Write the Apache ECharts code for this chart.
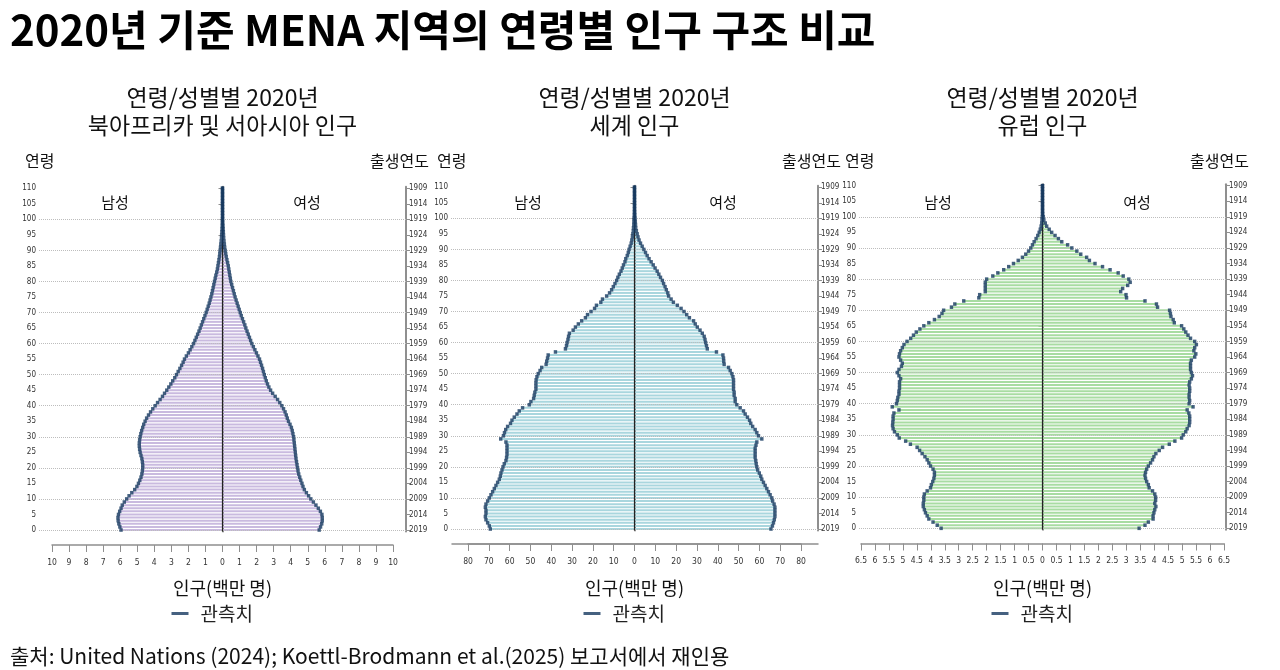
<!DOCTYPE html>
<html>
<head>
<meta charset="utf-8">
<script src="https://cdn.jsdelivr.net/npm/echarts@6/dist/echarts.min.js"></script>
<style>
html,body{margin:0;padding:0;background:#fff;}
#c{width:1280px;height:670px;}
</style>
</head>
<body>
<div id="c"></div>
<script>
// ---------------- DATA ----------------
const ages = Array.from({length:111}, (_, i) => String(i));          // 0..110
const birthYears = ages.map(a => String(2019 - Number(a)));          // 2019..1909

const menaMale = [5.95,6.02,6.08,6.12,6.13,6.10,6.03,5.95,5.88,5.76,
  5.62,5.48,5.32,5.15,5.02,4.93,4.85,4.78,4.73,4.70,
  4.68,4.68,4.70,4.73,4.78,4.83,4.86,4.88,4.88,4.86,
  4.83,4.79,4.74,4.68,4.62,4.54,4.45,4.34,4.22,4.09,
  3.95,3.81,3.66,3.52,3.40,3.27,3.15,3.03,2.92,2.80,
  2.70,2.60,2.50,2.40,2.31,2.23,2.12,2.00,1.90,1.80,
  1.70,1.62,1.54,1.46,1.38,1.31,1.24,1.17,1.10,1.03,
  0.96,0.90,0.84,0.78,0.73,0.68,0.63,0.59,0.55,0.51,
  0.47,0.43,0.39,0.34,0.30,0.27,0.24,0.21,0.18,0.16,
  0.14,0.12,0.10,0.08,0.06,0.05,0.04,0.03,0.02,0.015,
  0.01,0.008,0.006,0.005,0.004,0.003,0.002,0.002,0.001,0.001,0.001];
const menaFemale = [5.67,5.75,5.82,5.85,5.85,5.83,5.74,5.62,5.48,5.33,
  5.18,5.05,4.92,4.80,4.72,4.66,4.59,4.53,4.47,4.43,
  4.40,4.37,4.34,4.31,4.29,4.27,4.25,4.23,4.21,4.19,
  4.17,4.13,4.09,4.04,3.96,3.87,3.80,3.74,3.67,3.58,
  3.48,3.36,3.23,3.09,2.94,2.82,2.72,2.64,2.57,2.51,
  2.45,2.40,2.35,2.29,2.23,2.17,2.08,1.99,1.90,1.81,
  1.72,1.65,1.58,1.51,1.44,1.37,1.31,1.24,1.17,1.10,
  1.04,0.98,0.92,0.86,0.80,0.74,0.69,0.64,0.59,0.54,
  0.49,0.46,0.43,0.40,0.37,0.34,0.30,0.26,0.22,0.19,
  0.16,0.13,0.11,0.09,0.07,0.06,0.05,0.04,0.03,0.02,
  0.015,0.01,0.008,0.006,0.005,0.004,0.003,0.002,0.002,0.001,0.001];

const worldMale = [69.3,69.8,70.6,71.4,71.7,71.4,71.4,71.7,71.4,70.6,
  69.8,69.0,68.2,67.4,66.6,65.8,65.0,64.5,64.2,63.7,
  63.2,62.6,61.8,61.5,61.3,61.3,61.3,61.3,61.8,64.3,
  63.0,62.5,61.9,61.0,59.6,58.9,57.8,56.5,55.4,53.8,
  50.6,49.8,48.5,48.2,47.9,47.4,47.4,47.4,47.3,46.9,
  46.3,45.4,44.6,42.5,42.2,41.8,41.5,38.0,33.2,32.7,
  32.4,32.0,31.7,31.3,29.5,28.4,27.0,25.4,23.6,22.6,
  20.9,19.2,18.3,16.2,15.4,13.4,12.0,11.0,10.2,9.4,
  8.6,8.0,7.3,6.5,5.9,5.3,4.6,4.2,3.5,3.0,
  2.6,2.1,1.6,1.3,1.0,0.8,0.6,0.5,0.35,0.3,
  0.25,0.15,0.1,0.08,0.05,0.03,0.02,0.01,0.01,0.005,0.005];
const worldFemale = [65.6,66.3,66.8,67.2,67.5,67.5,67.5,67.5,67.1,66.4,
  66.0,65.2,64.4,63.6,62.8,62.0,61.2,60.7,60.0,59.2,
  58.8,58.5,58.3,58.0,58.0,58.0,58.0,58.4,58.8,61.2,
  59.6,58.8,58.0,56.8,55.9,55.3,54.3,53.2,52.4,50.8,
  49.2,48.4,48.4,47.9,47.9,47.6,47.6,47.6,47.6,47.3,
  46.8,46.0,45.2,43.1,42.9,42.8,42.5,39.4,35.0,34.6,
  34.2,33.9,33.5,32.6,31.5,30.2,29.2,28.4,26.4,25.1,
  23.8,22.4,20.6,18.7,17.6,16.4,16.0,15.3,14.7,14.0,
  13.4,12.5,11.7,10.9,9.9,9.0,8.0,7.0,6.1,5.3,
  4.5,3.7,2.9,2.2,1.7,1.3,0.9,0.6,0.5,0.4,
  0.3,0.2,0.15,0.1,0.07,0.05,0.03,0.02,0.01,0.01,0.005];

const europeMale = [3.63,3.77,3.92,4.07,4.13,4.19,4.23,4.27,4.27,4.25,
  4.25,4.23,4.13,4.01,3.98,3.93,3.89,3.87,3.87,3.92,
  4.01,4.07,4.13,4.21,4.31,4.40,4.49,4.73,4.90,5.13,
  5.20,5.30,5.35,5.37,5.36,5.35,5.35,5.32,5.14,5.38,
  5.23,5.20,5.18,5.14,5.14,5.12,5.12,5.12,5.08,5.14,
  5.20,5.14,5.05,5.02,5.08,5.14,5.12,5.08,5.02,4.96,
  4.85,4.72,4.62,4.52,4.39,4.25,4.07,3.87,3.70,3.60,
  3.54,3.26,3.14,2.82,2.28,2.25,2.05,2.05,2.05,2.05,
  2.00,1.78,1.60,1.39,1.21,1.04,0.87,0.72,0.60,0.50,
  0.42,0.36,0.30,0.23,0.17,0.12,0.08,0.05,0.03,0.02,
  0.01,0.005,0.003,0.002,0.001,0.001,0.001,0.001,0.001,0.001,0.001];
const europeFemale = [3.46,3.67,3.79,3.96,3.96,3.99,4.02,4.06,4.02,4.05,
  4.05,4.02,3.94,3.82,3.79,3.73,3.69,3.67,3.69,3.73,
  3.79,3.87,3.94,3.99,4.06,4.18,4.30,4.54,4.74,4.98,
  5.04,5.13,5.18,5.25,5.27,5.27,5.27,5.24,5.18,5.39,
  5.25,5.27,5.25,5.25,5.27,5.27,5.25,5.27,5.33,5.37,
  5.33,5.30,5.30,5.30,5.33,5.45,5.49,5.42,5.45,5.51,
  5.45,5.30,5.21,5.13,5.06,4.98,4.72,4.68,4.60,4.58,
  4.55,4.12,4.08,3.67,3.01,2.99,2.80,2.87,3.05,3.14,
  3.09,2.89,2.71,2.42,2.15,1.88,1.68,1.58,1.37,1.23,
  1.05,0.90,0.69,0.57,0.45,0.33,0.24,0.15,0.10,0.05,
  0.03,0.01,0.005,0.003,0.002,0.001,0.001,0.001,0.001,0.001,0.001];

const gridAges = ['0','10','20','30','40','50','60','70','80','90','100'];

const mainTitle = '2020년 기준 MENA 지역의 연령별 인구 구조 비교';
const subLine1 = '연령/성별별 2020년';
const subLine2 = ['북아프리카 및 서아시아 인구', '세계 인구', '유럽 인구'];
const sourceText = '출처: United Nations (2024); Koettl-Brodmann et al.(2025) 보고서에서 재인용';

// ---------------- LAYOUT ----------------
const KR = "'Noto Sans CJK KR', 'Noto Sans', sans-serif";
const NUM = "'Liberation Sans Narrow', 'DejaVu Sans Condensed', sans-serif";
const NAVY = '#173a60';
const AXIS = '#8f8f8f';

const panels = [
  {L:39, R:406, C:222.5, top:188.3, bot:530, half:10.76, axMin:-10, axMax:10, axInt:1, axL:52, axR:393, axY:545,
   barColor:'#c9badf', male:menaMale, female:menaFemale, mx:115, fx:307},
  {L:451, R:818, C:634.5, top:187.3, bot:529.0, half:88.2, axMin:-80, axMax:80, axInt:10, axL:468, axR:801, axY:544,
   barColor:'#a9d6de', male:worldMale, female:worldFemale, mx:528, fx:723, lineL:452, lineR:818},
  {L:859, R:1226, C:1042.5, top:185.7, bot:528.3, half:6.57, axMin:-6.5, axMax:6.5, axInt:0.5, axL:861, axR:1224, axY:543.5,
   barColor:'#a8dca2', male:europeMale, female:europeFemale, mx:938, fx:1137}
];

const grid = [], xAxis = [], yAxis = [], series = [], legend = [], graphic = [];

panels.forEach((p, i) => {
  const band = (p.bot - p.top) / 110;
  const gBar = grid.length;
  grid.push({left:p.L, width:p.R - p.L, top:p.top - band/2, height:(p.bot - p.top) + band, containLabel:false});
  const xBar = xAxis.length;
  xAxis.push({type:'value', gridIndex:gBar, min:-p.half, max:p.half, show:false});
  const yAge = yAxis.length;
  yAxis.push({type:'category', gridIndex:gBar, data:ages, position:'left', boundaryGap:true,
    axisLine:{show:true, lineStyle:{color:AXIS, width:2}},
    axisTick:{show:true, interval:4, alignWithLabel:true, length:4, lineStyle:{color:AXIS, width:1}},
    axisLabel:{interval:4, fontSize:8, color:'#333', fontFamily:NUM, margin:3},
    splitLine:{show:false}});
  yAxis.push({type:'category', gridIndex:gBar, data:birthYears, position:'right', boundaryGap:true,
    axisLine:{show:true, lineStyle:{color:AXIS, width:2}},
    axisTick:{show:true, interval:4, alignWithLabel:true, length:4, lineStyle:{color:AXIS, width:1}},
    axisLabel:{interval:4, fontSize:8, color:'#333', fontFamily:NUM, margin:3},
    splitLine:{show:false}});

  // bottom population axis
  const gAx = grid.length;
  grid.push({left:p.axL, width:p.axR - p.axL, top:p.axY - 5, height:5});
  xAxis.push({type:'value', gridIndex:gAx, min:p.axMin, max:p.axMax, interval:p.axInt, position:'bottom',
    axisLine:{show:true, onZero:false, lineStyle:{color:AXIS, width:1.5}},
    axisTick:{show:true, length:7, inside:false, lineStyle:{color:AXIS, width:1}},
    axisLabel:{fontSize:8.5, color:'#333', fontFamily:NUM, margin:13, formatter:v => String(Math.abs(v))},
    splitLine:{show:false}});
  yAxis.push({type:'value', gridIndex:gAx, show:false, min:0, max:1});
  if (p.lineL) {
    const gLn = grid.length;
    grid.push({left:p.lineL, width:p.lineR - p.lineL, top:p.axY - 5, height:5});
    xAxis.push({type:'value', gridIndex:gLn, min:0, max:1, position:'bottom',
      axisLine:{show:true, onZero:false, lineStyle:{color:AXIS, width:1.5}},
      axisTick:{show:false}, axisLabel:{show:false}, splitLine:{show:false}});
    yAxis.push({type:'value', gridIndex:gLn, show:false, min:0, max:1});
  }

  series.push({type:'bar', name:'남성', xAxisIndex:xBar, yAxisIndex:yAge, data:p.male.map(v => -v),
    barWidth:2, barGap:'-100%', itemStyle:{color:p.barColor}, silent:true, z:2,
    markLine:{silent:true, symbol:'none', label:{show:false}, animation:false,
      lineStyle:{color:'#bdbdbd', type:'dotted', width:1},
      data:gridAges.map(a => ({yAxis:a}))}});
  series.push({type:'bar', name:'여성', xAxisIndex:xBar, yAxisIndex:yAge, data:p.female,
    barWidth:2, barGap:'-100%', itemStyle:{color:p.barColor}, silent:true, z:2,
    markLine:{silent:true, symbol:'none', label:{show:false}, animation:false,
      lineStyle:{color:'#222', type:'solid', width:1.2},
      data:[{xAxis:0}]}});
  series.push({type:'scatter', name:'관측치', xAxisIndex:xBar, yAxisIndex:yAge,
    data:p.male.map((v, k) => [-v, k]), symbol:'rect', symbolSize:[3.4, 3.6],
    itemStyle:{color:NAVY}, silent:true, z:5});
  series.push({type:'scatter', name:'관측치', xAxisIndex:xBar, yAxisIndex:yAge,
    data:p.female.map((v, k) => [v, k]), symbol:'rect', symbolSize:[3.4, 3.6],
    itemStyle:{color:NAVY}, silent:true, z:5});

  legend.push({data:['관측치'], left:p.C - 56, top:599, icon:'rect', itemWidth:17, itemHeight:3,
    selectedMode:false, itemStyle:{color:NAVY},
    textStyle:{fontSize:19, fontFamily:KR, color:'#222', padding:[0,0,0,7]}});

  // texts
  graphic.push({type:'text', x:p.C, y:97, style:{text:subLine1, fontSize:23, fontFamily:KR, fill:'#111', align:'center', verticalAlign:'middle'}});
  graphic.push({type:'text', x:p.C, y:125, style:{text:subLine2[i], fontSize:23, fontFamily:KR, fill:'#111', align:'center', verticalAlign:'middle'}});
  graphic.push({type:'text', x:p.L - 14, y:161, style:{text:'연령', fontSize:16, fontFamily:KR, fill:'#111', align:'left', verticalAlign:'middle'}});
  graphic.push({type:'text', x:p.R + 23, y:161, style:{text:'출생연도', fontSize:16, fontFamily:KR, fill:'#111', align:'right', verticalAlign:'middle'}});
  graphic.push({type:'text', x:p.mx, y:202, style:{text:'남성', fontSize:15, fontFamily:KR, fill:'#111', align:'center', verticalAlign:'middle'}});
  graphic.push({type:'text', x:p.fx, y:202, style:{text:'여성', fontSize:15, fontFamily:KR, fill:'#111', align:'center', verticalAlign:'middle'}});
  graphic.push({type:'text', x:p.C, y:588, style:{text:'인구(백만 명)', fontSize:18, fontFamily:KR, fill:'#111', align:'center', verticalAlign:'middle'}});
});

graphic.push({type:'text', x:10, y:30, style:{text:mainTitle, fontSize:42, fontWeight:'bold', fontFamily:KR, fill:'#000', align:'left', verticalAlign:'middle'}});
graphic.push({type:'text', x:10, y:656, style:{text:sourceText, fontSize:21, fontFamily:KR, fill:'#111', align:'left', verticalAlign:'middle'}});

const chart = echarts.init(document.getElementById('c'), null, {renderer:'canvas'});
chart.setOption({
  backgroundColor:'#fff',
  animation:false,
  grid, xAxis, yAxis, series, legend, graphic
});
</script>
</body>
</html>
